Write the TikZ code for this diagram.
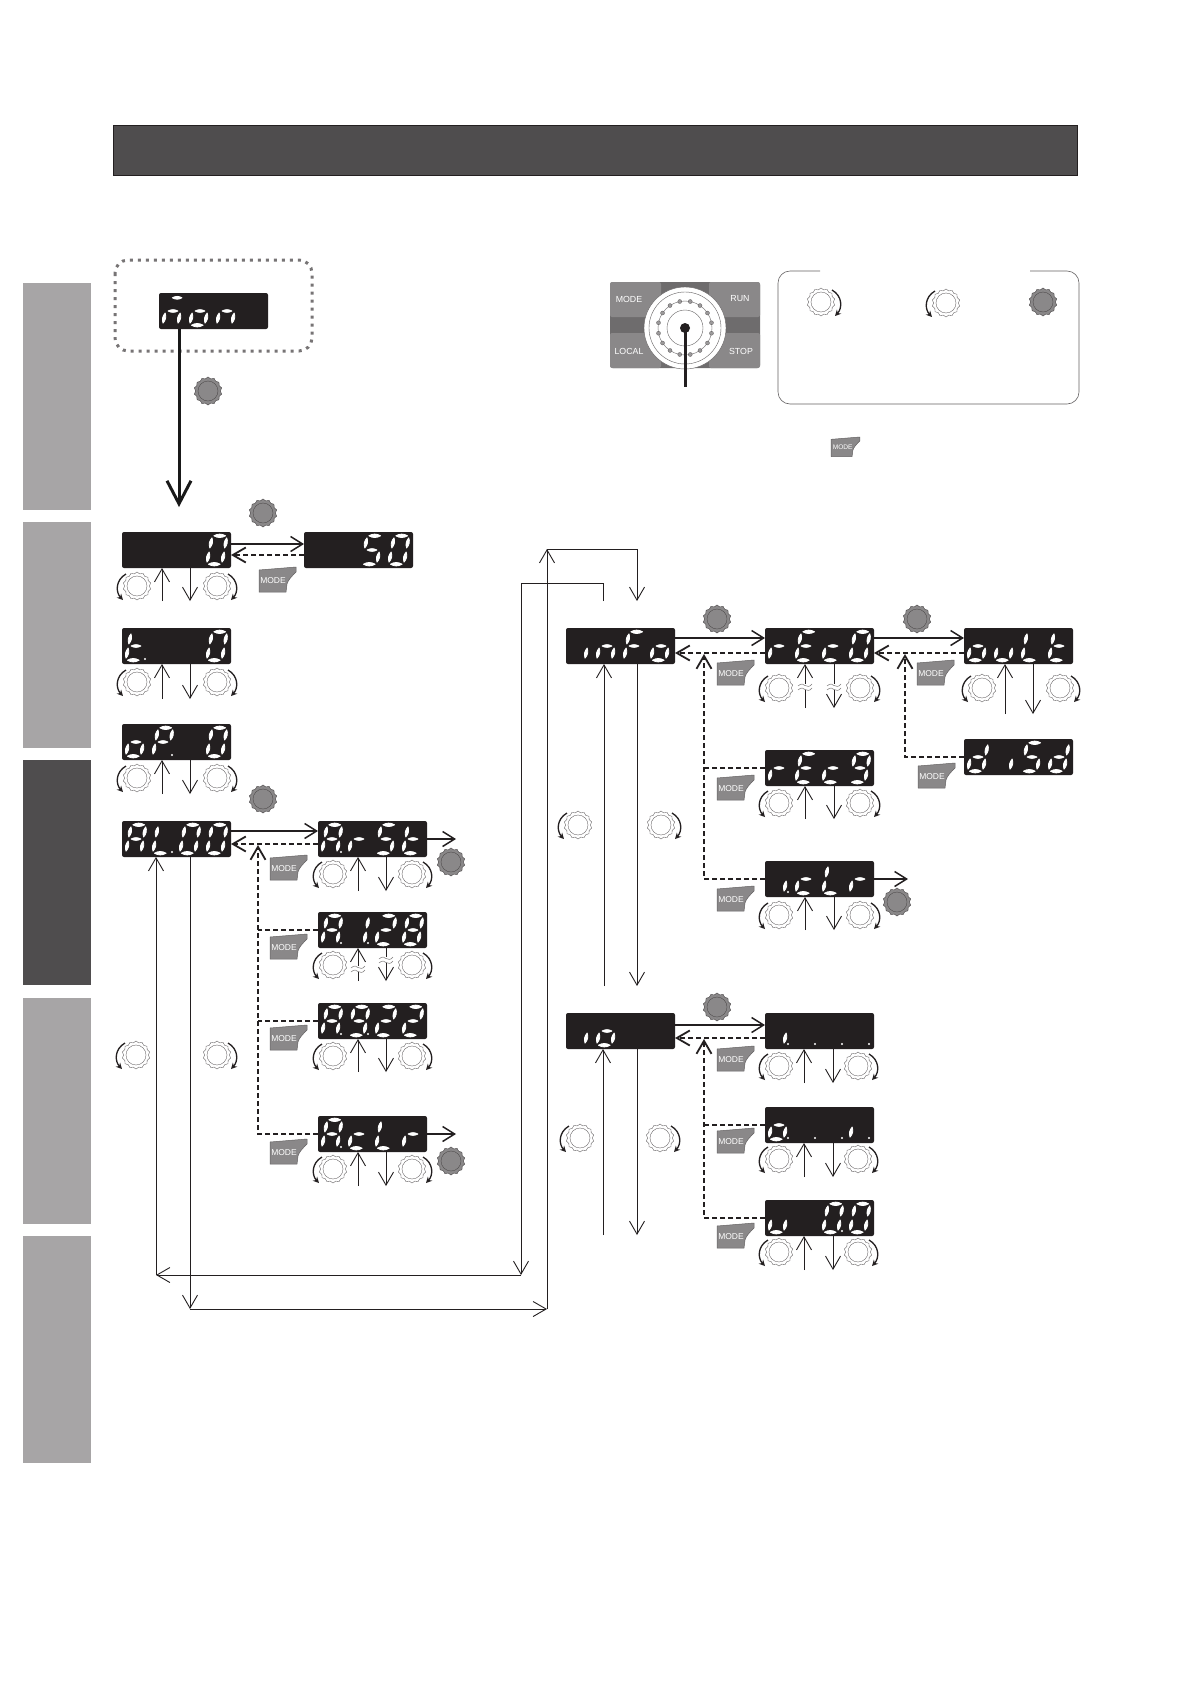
\documentclass[tikz,border=0pt]{standalone}
\usepackage{fontspec}
\setmainfont{Liberation Sans}
\usetikzlibrary{arrows.meta,calc,shapes.geometric}
\definecolor{ink}{HTML}{231F20}
\definecolor{tabl}{HTML}{A7A5A6}
\definecolor{tabd}{HTML}{4F4D4E}
\definecolor{pad}{HTML}{8A8889}
\definecolor{padd}{HTML}{6E6C6D}
\tikzset{
  disp/.style={rectangle,rounded corners=2pt,fill=ink,draw=none,anchor=north west,minimum width=109pt,minimum height=36pt,inner sep=0pt,outer sep=0pt},
  dialw/.style={star,star points=14,star point ratio=1.13,minimum size=28pt,inner sep=0pt,outer sep=0pt,draw=ink!75,fill=white,line width=.35pt},
  dialp/.style={star,star points=14,star point ratio=1.13,minimum size=28pt,inner sep=0pt,outer sep=0pt,draw=ink!80,fill=pad,line width=.45pt},
  tarr/.style={ink,line width=.9pt,-{Straight Barb[length=13pt,width=15pt,line width=.9pt]}},
  sarr/.style={ink,line width=1.5pt,-{Straight Barb[length=12pt,width=15pt,line width=1.5pt]}},
  darr/.style={ink,line width=1.4pt,dash pattern=on 5pt off 3pt,-{Straight Barb[length=13pt,width=15pt,line width=1.8pt]}},
  dlin/.style={ink,line width=1.2pt,dash pattern=on 5pt off 3pt},
  turn/.style={ink,line width=1.3pt,-{Stealth[length=6pt,width=6pt]}},
  tagtxt/.style={text=white,font=\fontsize{8.5}{9}\selectfont,inner sep=0pt},
  padtxt/.style={text=white,font=\fontsize{8.8}{9}\selectfont,inner sep=0pt},
  seg/.style={fill=white,draw=white,line width=.8pt,line join=round},
}
\expandafter\def\csname mysga\endcsname{\path[seg] (-3.2,-14.2) to[bend left=30] (8.6,-14.2) to[bend left=30] cycle;}
\expandafter\def\csname mysgb\endcsname{\path[seg] (9.8,-12.2) to[bend left=30] (7.6,-2) to[bend left=30] cycle;}
\expandafter\def\csname mysgc\endcsname{\path[seg] (7.2,2) to[bend left=30] (5,12.2) to[bend left=30] cycle;}
\expandafter\def\csname mysgd\endcsname{\path[seg] (-8.6,14.2) to[bend left=30] (3.2,14.2) to[bend left=30] cycle;}
\expandafter\def\csname mysge\endcsname{\path[seg] (-7.8,2) to[bend left=30] (-10,12.2) to[bend left=30] cycle;}
\expandafter\def\csname mysgf\endcsname{\path[seg] (-5,-12.2) to[bend left=30] (-7.2,-2) to[bend left=30] cycle;}
\expandafter\def\csname mysgg\endcsname{\path[seg] (-5,0) to[bend left=28] (5,0) to[bend left=28] cycle;}
\def\segloop#1{\ifx#1.\else\csname mysg#1\endcsname\expandafter\segloop\fi}
\newcommand\digat[3]{\begin{scope}[shift={(#1,#2)}]\expandafter\segloop#3.\end{scope}}
\def\sgA{abcefg}\def\sgL{def}\def\sgZ{abcdef}\def\sgO{cdeg}\def\sgN{ceg}\def\sgR{eg}
\def\sgS{acdfg}\def\sgT{defg}\def\sgP{abefg}\def\sgE{adefg}\def\sgF{aefg}\def\sgC{deg}
\def\sgNine{abcdfg}\def\sgTwo{abdeg}\def\sgEight{abcdefg}\def\sgOne{bc}\def\sgU{cde}\def\sgD{bcdeg}\def\sgI{c}
\newcommand\disp[7]{%
  \node[disp] (#1) at (#2,#3) {};
  \begin{scope}[shift={(#2,#3)}]
    \digat{14}{18}{#4}\digat{41}{18}{#5}\digat{68}{18}{#6}\digat{95}{18}{#7}
  \end{scope}}
\newcommand\dpoint[2]{\fill[white] ($(#1.north west)+(#2*27-4,31)$) circle (1.1);}
\newcount\gno
\newcommand\dialCW[2]{\global\advance\gno 1
  \node[dialw] (gd\the\gno) at (#1,#2) {};
  \draw[ink!75,line width=.35pt] (gd\the\gno.center) circle (10);
  \draw[turn] ($(gd\the\gno.center)+(11,-12)$) .. controls ($(gd\the\gno.center)+(21.5,-6)$) and ($(gd\the\gno.center)+(21.5,6)$) .. ($(gd\the\gno.center)+(14,14)$);}
\newcommand\dialCCW[2]{\global\advance\gno 1
  \node[dialw] (gd\the\gno) at (#1,#2) {};
  \draw[ink!75,line width=.35pt] (gd\the\gno.center) circle (10);
  \draw[turn] ($(gd\the\gno.center)+(-11,-12)$) .. controls ($(gd\the\gno.center)+(-21.5,-6)$) and ($(gd\the\gno.center)+(-21.5,6)$) .. ($(gd\the\gno.center)+(-14,14)$);}
\newcommand\dialPress[2]{\global\advance\gno 1
  \node[dialp] (gd\the\gno) at (#1,#2) {};
  \draw[ink!80,line width=.4pt] (gd\the\gno.center) circle (10);}
% name, up offset, down offset, tail length, left gear x, right gear x, gear y
\newcommand\ctrl[7]{%
  \draw[tarr] ([xshift=#2pt,yshift=-#4pt]#1.south west) -- ([xshift=#2pt]#1.south west);
  \draw[tarr] ([xshift=#3pt]#1.south west) -- ([xshift=#3pt,yshift=-#4pt]#1.south west);
  \dialCCW{#5}{#7}\dialCW{#6}{#7}}
\newcount\tno
\newcommand\modetag[2]{\global\advance\tno 1
  \begin{scope}[shift={(#1,#2)}]
    \draw[fill=pad,draw=ink!70,line width=.5pt,line join=round] (0,3) -- (37,0) -- (37,5) .. controls (33,9) and (29,13) .. (28,17) -- (27,25) -- (0,25) -- cycle;
    \node[tagtxt] (tag\the\tno) at (14,13.2) {MODE};
  \end{scope}}
\newcommand\squig[2]{%
  \fill[white] (#1-7,#2-3) rectangle (#1+7,#2+3);
  \draw[ink!60,line width=.5pt] (#1-7,#2-1) .. controls (#1-4,#2-4) and (#1-1,#2-3) .. (#1,#2-1.5) .. controls (#1+2,#2) and (#1+5,#2) .. (#1+7,#2-3);
  \draw[ink!60,line width=.5pt] (#1-7,#2+3) .. controls (#1-4,#2) and (#1-1,#2+1) .. (#1,#2+2.5) .. controls (#1+2,#2+4) and (#1+5,#2+4) .. (#1+7,#2+1);}
\begin{document}
\begin{tikzpicture}[x=1pt,y=-1pt]
\useasboundingbox (0,0) rectangle (1191,1684);
\fill[white] (0,0) rectangle (1191,1684);
% header and side tabs
\draw[fill=tabd,draw=ink,line width=.8pt] (113,125) rectangle (1077,175.5);
\fill[tabl] (23,283) rectangle (91,510);
\fill[tabl] (23,522) rectangle (91,748);
\fill[tabd] (23,760) rectangle (91,985);
\fill[tabl] (23,998) rectangle (91,1224);
\fill[tabl] (23,1236) rectangle (91,1463);
% dotted frame
\draw[ink!62,line width=3pt,dash pattern=on 3pt off 5pt,rounded corners=13pt] (115,260) rectangle (312,351);
% operating panel
\fill[padd,rounded corners=3pt] (610,282) rectangle (760,368);
\fill[pad,rounded corners=2pt] (610,282) rectangle (661,317);
\fill[pad,rounded corners=2pt] (709,282) rectangle (760,317);
\fill[pad,rounded corners=2pt] (610,333) rectangle (661,368);
\fill[pad,rounded corners=2pt] (709,333) rectangle (760,368);
\coordinate (dialc) at (685,328);
\draw[fill=white,draw=ink!70,line width=.4pt] (dialc) circle (41);
\draw[ink!70,line width=.4pt] (dialc) circle (36);
\draw[ink!70,line width=.4pt] (dialc) circle (27);
\draw[ink!70,line width=.4pt] (dialc) circle (18);
\foreach \a in {11.25,33.75,...,360}{\draw[fill=ink!45,draw=ink!75,line width=.3pt] ($(dialc)+(\a:27)$) circle (2);}
\node[padtxt] (pmode) at (629,299) {MODE};
\node[padtxt] (prun) at (740,299) {RUN};
\node[padtxt] (plocal) at (629,351) {LOCAL};
\node[padtxt] (pstop) at (741,351) {STOP};
\coordinate (pointerend) at (685,387);
\fill[ink] (dialc) circle (5);
\draw[ink,line width=3pt] (dialc) -- (pointerend);
% legend box
\draw[ink!70,line width=.6pt,rounded corners=12pt] (820,271) -- (778,271) -- (778,404) -- (1079,404) -- (1079,271) -- (1030,271);
\dialCW{821}{302}
\dialCCW{946}{303}
\dialPress{1043}{302}
\begin{scope}[shift={(831,437)},scale=.78]
  \draw[fill=pad,draw=ink!70,line width=.5pt,line join=round] (0,3) -- (37,0) -- (37,5) .. controls (33,9) and (29,13) .. (28,17) -- (27,25) -- (0,25) -- cycle;
  \node[text=white,inner sep=0pt,font=\fontsize{6.6}{7}\selectfont] (tagsmall) at (15,12.5) {MODE};
\end{scope}
% displays
\disp{non}{159}{293}{\sgN}{\sgO}{\sgN}{}
\path[seg] (172.3,297.8) to[bend left=30] (182,297.8) to[bend left=30] cycle;
\disp{zero}{122}{532}{}{}{}{\sgZ}
\disp{fifty}{304}{532}{}{}{\sgS}{\sgZ}
\disp{tzero}{122}{628}{\sgT}{}{}{\sgZ}\dpoint{tzero}{1}
\disp{opzero}{122}{724}{\sgO}{\sgP}{}{\sgZ}\dpoint{opzero}{2}
\disp{al}{122}{821}{\sgA}{\sgL}{\sgZ}{\sgZ}\dpoint{al}{2}
\disp{arst}{318}{821}{\sgA}{\sgR}{\sgS}{\sgT}\dpoint{arst}{1}
\disp{aot}{318}{912}{\sgA}{\sgOne}{\sgTwo}{\sgEight}\dpoint{aot}{1}\dpoint{aot}{2}
\disp{ant}{318}{1003}{\sgA}{\sgNine}{\sgTwo}{\sgTwo}\dpoint{ant}{1}\dpoint{ant}{2}
\disp{aclr}{318}{1116}{\sgA}{\sgC}{\sgL}{\sgR}\dpoint{aclr}{1}
\disp{info}{566}{628}{\sgI}{\sgN}{\sgF}{\sgO}
\disp{reco}{765}{628}{\sgR}{\sgE}{\sgC}{\sgZ}
\disp{oult}{964}{628}{\sgO}{\sgU}{\sgL}{\sgT}
\disp{recn}{765}{750}{\sgR}{\sgE}{\sgC}{\sgNine}
\disp{disd}{964}{739}{\sgD}{\sgI}{\sgS}{\sgD}
\disp{iclr}{765}{861}{\sgI}{\sgC}{\sgL}{\sgR}\dpoint{iclr}{1}
\disp{io}{566}{1013}{\sgI}{\sgO}{}{}
\disp{ione}{765}{1013}{\sgI}{}{}{}\dpoint{ione}{1}\dpoint{ione}{2}\dpoint{ione}{3}\dpoint{ione}{4}
\disp{otwo}{765}{1107}{\sgO}{}{}{e}\dpoint{otwo}{1}\dpoint{otwo}{2}\dpoint{otwo}{3}\dpoint{otwo}{4}
\disp{uzero}{765}{1200}{\sgU}{}{\sgZ}{\sgZ}\dpoint{uzero}{3}
% big arrow
\coordinate (bigtip) at (179,507);
\draw[black!90,line width=3pt,-{Straight Barb[length=23pt,width=24pt,line width=3pt]}] (non.south -| bigtip) -- (bigtip);
\dialPress{208}{391}
\dialPress{263}{513}
\dialPress{263}{799}
\dialPress{451}{862}
\dialPress{451}{1161}
\dialPress{717}{619}
\dialPress{917}{619}
\dialPress{897}{902}
\dialPress{717}{1007}
% zero <-> fifty
\draw[sarr] ([yshift=-12pt]zero.north east) -- ([yshift=-12pt]fifty.north west);
\draw[darr] ([yshift=-23pt]fifty.north west) -- ([yshift=-23pt]zero.north east);
\modetag{259}{567}
% left column controls
\ctrl{zero}{40}{68}{33}{137}{217}{586}
\ctrl{tzero}{40}{68}{35}{137}{217}{682}
\ctrl{opzero}{40}{68}{34}{137}{217}{778}
% alarm menu
\draw[sarr] ([yshift=-10pt]al.north east) -- ([yshift=-10pt]arst.north west);
\draw[darr] ([yshift=-23pt]arst.north west) -- ([yshift=-23pt]al.north east);
\coordinate (jal) at (258,845);
\draw[darr] (aclr.west) -| (jal);
\draw[dlin] (aot.west) -- (aot.west -| jal);
\draw[dlin] (ant.west) -- (ant.west -| jal);
\coordinate (arstout) at (456,839);
\coordinate (aclrout) at (456,1134);
\draw[sarr] (arst.east) -- (arstout);
\draw[sarr] (aclr.east) -- (aclrout);
\modetag{270}{855}\modetag{270}{934}\modetag{270}{1025}\modetag{270}{1139}
\ctrl{arst}{40}{68}{34}{333}{412}{874}
\ctrl{aot}{40}{68}{33}{333}{412}{965}
\squig{358}{969}\squig{386}{960}
\ctrl{ant}{40}{68}{33}{333}{412}{1056}
\ctrl{aclr}{40}{68}{34}{333}{412}{1169}
% dials beside the long lines
\dialCCW{136}{1055}\dialCW{217}{1055}
% long connectors
\coordinate (pa0) at (603,601);
\coordinate (pa1) at (521,583);
\coordinate (pa2) at (521,1275);
\coordinate (pa3) at (156,1275);
\draw[tarr] (pa0) |- (pa1) -- (pa2);
\draw[tarr] (pa2) -- (pa3);
\draw[tarr] (pa3) -- (al.south -| pa3);
\coordinate (pb1) at (190,1309);
\coordinate (pb2) at (547,1309);
\coordinate (pb3) at (547,549);
\coordinate (pb4) at (637,549);
\coordinate (pb5) at (637,601);
\draw[tarr] (al.south -| pb1) -- (pb1);
\draw[tarr] (pb1) -- (pb2);
\draw[tarr] (pb2) -- (pb3);
\draw[tarr] (pb3) -- (pb4) -- (pb5);
% info menu
\draw[sarr] ([yshift=-10pt]info.north east) -- ([yshift=-10pt]reco.north west);
\draw[darr] ([yshift=-25pt]reco.north west) -- ([yshift=-25pt]info.north east);
\coordinate (jinfo) at (704,654);
\draw[darr] (iclr.west) -| (jinfo);
\draw[dlin] (recn.west) -- (recn.west -| jinfo);
\draw[sarr] ([yshift=-10pt]reco.north east) -- ([yshift=-10pt]oult.north west);
\draw[darr] ([yshift=-25pt]oult.north west) -- ([yshift=-25pt]reco.north east);
\coordinate (jreco) at (905,654);
\draw[darr] (disd.west) -| (jreco);
\coordinate (iclrout) at (908,879);
\draw[sarr] (iclr.east) -- (iclrout);
\modetag{717}{660}\modetag{917}{660}\modetag{717}{775}\modetag{918}{763}\modetag{717}{886}
\ctrl{reco}{40}{69}{44}{779}{860}{688}
\squig{805}{687}\squig{834}{687}
\ctrl{oult}{41}{69}{50}{982}{1060}{688}
\ctrl{recn}{40}{69}{33}{779}{860}{803}
\ctrl{iclr}{40}{69}{33}{779}{860}{915}
\coordinate (infoa) at (604,986);
\coordinate (infob) at (637,986);
\draw[tarr] (infoa) -- (info.south -| infoa);
\draw[tarr] (info.south -| infob) -- (infob);
\dialCCW{578}{825}\dialCW{661}{825}
% io menu
\draw[sarr] ([yshift=-12pt]io.north east) -- ([yshift=-12pt]ione.north west);
\draw[darr] ([yshift=-25pt]ione.north west) -- ([yshift=-25pt]io.north east);
\coordinate (jio) at (704,1039);
\draw[darr] (uzero.west) -| (jio);
\draw[dlin] (otwo.west) -- (otwo.west -| jio);
\modetag{717}{1046}\modetag{717}{1128}\modetag{717}{1223}
\ctrl{ione}{39}{68}{34}{779}{858}{1066}
\ctrl{otwo}{39}{68}{34}{779}{858}{1159}
\ctrl{uzero}{39}{68}{34}{779}{858}{1252}
\coordinate (ioa) at (603,1235);
\coordinate (iob) at (637,1235);
\draw[tarr] (ioa) -- (io.south -| ioa);
\draw[tarr] (io.south -| iob) -- (iob);
\dialCCW{580}{1138}\dialCW{660}{1138}
\end{tikzpicture}
\end{document}
